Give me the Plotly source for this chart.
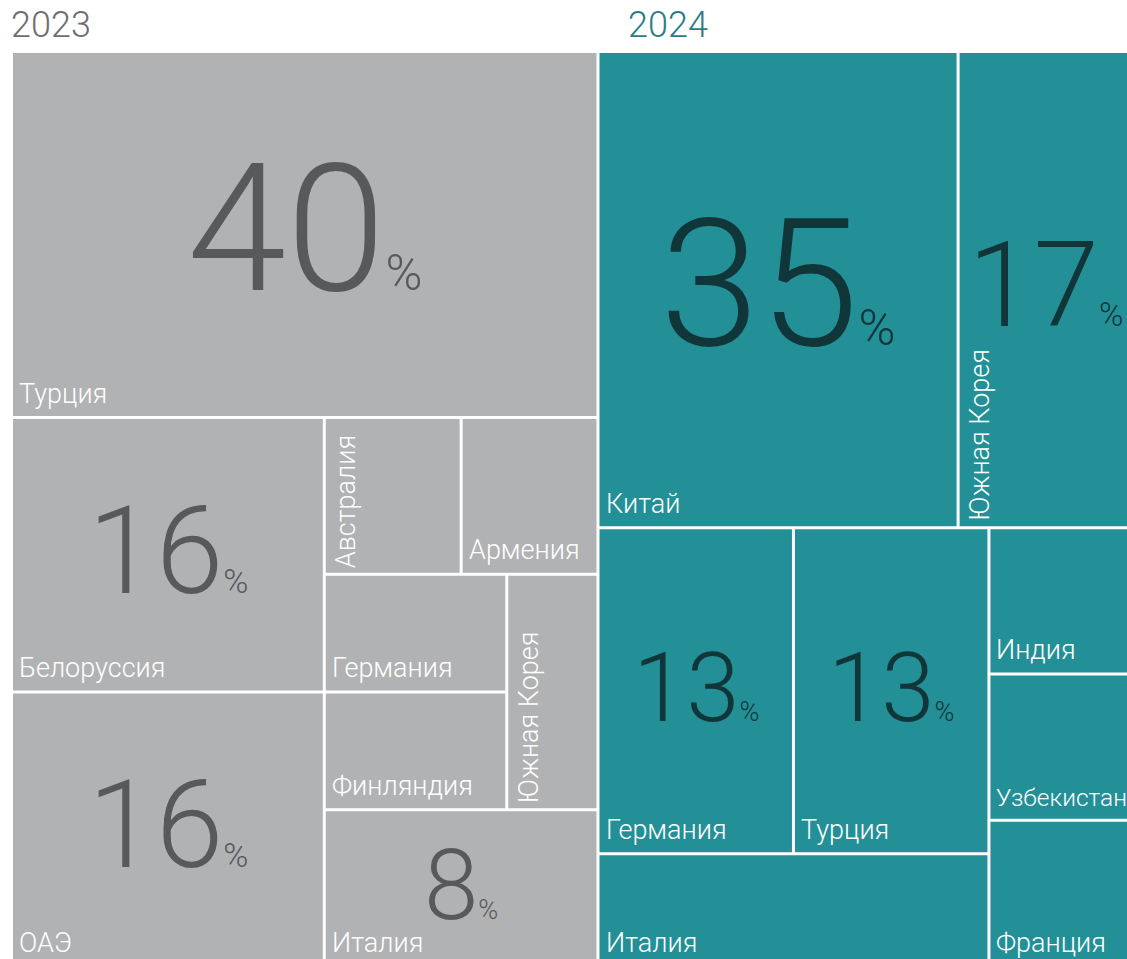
import plotly.graph_objects as go

# ---------------- data ----------------
years = ["2023", "2024"]

countries_2023 = ["Турция", "Белоруссия", "ОАЭ", "Австралия", "Армения",
                  "Германия", "Финляндия", "Южная Корея", "Италия"]
shares_2023 = [40, 16, 16, 4, 4, 4, 4, 4, 8]
shown_2023 = [True, True, True, False, False, False, False, False, True]

countries_2024 = ["Китай", "Южная Корея", "Германия", "Турция", "Италия",
                  "Индия", "Узбекистан", "Франция"]
shares_2024 = [35, 17, 13, 13, 9, 4.3, 4.3, 4.3]
shown_2024 = [True, True, True, True, False, False, False, False]

# ---------------- layout / style config ----------------
W, H = 1127, 959
GAP = 3
FONT = "Roboto"

# split structure: "v" = stack along y, "h" = side by side along x
tree_2023 = ("v", ["Турция",
                   ("h", [("v", ["Белоруссия", "ОАЭ"]),
                          ("v", [("h", ["Австралия", "Армения"]),
                                 ("h", [("v", ["Германия", "Финляндия"]), "Южная Корея"]),
                                 "Италия"])])])
tree_2024 = ("v", [("h", ["Китай", "Южная Корея"]),
                   ("h", [("v", [("h", ["Германия", "Турция"]), "Италия"]),
                          ("v", ["Индия", "Узбекистан", "Франция"])])])

panels = {
    "2023": dict(box=(11.5, 51.5, 598, 966.5), tree=tree_2023,
                 fill="#b1b2b4", num="#58595b", title="#6d6e71", title_x=9,
                 rotated={"Австралия", "Южная Корея"},
                 num_size={"Турция": 179, "Белоруссия": 122, "ОАЭ": 122, "Италия": 98},
                 label_size={}),
    "2024": dict(box=(598, 51.5, 1133, 966.5), tree=tree_2024,
                 fill="#238f96", num="#10363a", title="#2b7d82", title_x=626,
                 rotated={"Южная Корея"},
                 num_size={"Китай": 179, "Южная Корея": 118, "Германия": 96, "Турция": 96},
                 label_size={"Узбекистан": 24.5}),
}
LABEL_SIZE = 27
TITLE_SIZE = 36


def weight(node, vals):
    if isinstance(node, str):
        return vals[node]
    return sum(weight(c, vals) for c in node[1])


def tile(node, vals, x0, y0, x1, y1, out):
    if isinstance(node, str):
        out[node] = (x0, y0, x1, y1)
        return
    d, kids = node
    tot = weight(node, vals)
    pos = x0 if d == "h" else y0
    for k in kids:
        f = weight(k, vals) / tot
        if d == "h":
            nx = pos + f * (x1 - x0)
            tile(k, vals, pos, y0, nx, y1, out)
            pos = nx
        else:
            ny = pos + f * (y1 - y0)
            tile(k, vals, x0, pos, x1, ny, out)
            pos = ny


def place(y):
    """keep annotation anchor inside the axis range, push the rest with a pixel shift"""
    yc = min(y, H - 0.5)
    return yc, -(y - yc)


data = {
    "2023": (countries_2023, shares_2023, shown_2023),
    "2024": (countries_2024, shares_2024, shown_2024),
}

fig = go.Figure()
shapes, annots = [], []

for yr in years:
    names, vals, shown = data[yr]
    p = panels[yr]
    vmap = dict(zip(names, vals))
    rects = {}
    tile(p["tree"], vmap, *p["box"], rects)
    for name, v, sh in zip(names, vals, shown):
        x0, y0, x1, y1 = rects[name]
        x0 += GAP / 2; y0 += GAP / 2; x1 -= GAP / 2; y1 -= GAP / 2
        shapes.append(dict(type="rect", xref="x", yref="y", x0=x0, y0=y0, x1=x1, y1=y1,
                           fillcolor=p["fill"], line=dict(width=0), layer="below"))
        lsize = p["label_size"].get(name, LABEL_SIZE)
        lfont = dict(family=FONT, size=lsize, color="white", weight=300)
        if name in p["rotated"]:
            yy, ys = place(y1 - 3)
            annots.append(dict(x=x0 + 3, y=yy, yshift=ys, xref="x", yref="y", text=name,
                               textangle=-90, xanchor="left", yanchor="bottom",
                               showarrow=False, font=lfont))
        else:
            yy, ys = place(y1 - 4.5)
            annots.append(dict(x=x0 + 4, y=yy, yshift=ys, xref="x", yref="y", text=name,
                               xanchor="left", yanchor="bottom", showarrow=False,
                               font=lfont))
        if sh:
            s = p["num_size"][name]
            ps = round(s * 0.28)
            txt = f"{v:g}<span style='font-size:{ps}px'>%</span>"
            cx = (x0 + x1) / 2
            cy = (y0 + y1) / 2 - 0.03 * s
            yy, ys = place(cy)
            annots.append(dict(x=cx, y=yy, yshift=ys, xref="x", yref="y", text=txt,
                               xanchor="center", yanchor="middle", showarrow=False,
                               font=dict(family=FONT, size=s, color=p["num"], weight=300)))
    annots.append(dict(x=p["title_x"], y=48, xref="x", yref="y", text=yr,
                       xanchor="left", yanchor="bottom", showarrow=False,
                       font=dict(family=FONT, size=TITLE_SIZE, color=p["title"], weight=300)))

fig.update_layout(
    width=W, height=H,
    margin=dict(l=0, r=0, t=0, b=0),
    paper_bgcolor="white", plot_bgcolor="white",
    xaxis=dict(range=[0, W], visible=False, fixedrange=True),
    yaxis=dict(range=[H, 0], visible=False, fixedrange=True),
    shapes=shapes, annotations=annots, showlegend=False,
)

fig.write_html("out.html", config={"displayModeBar": False},
               post_script="document.body.style.margin='0';")
